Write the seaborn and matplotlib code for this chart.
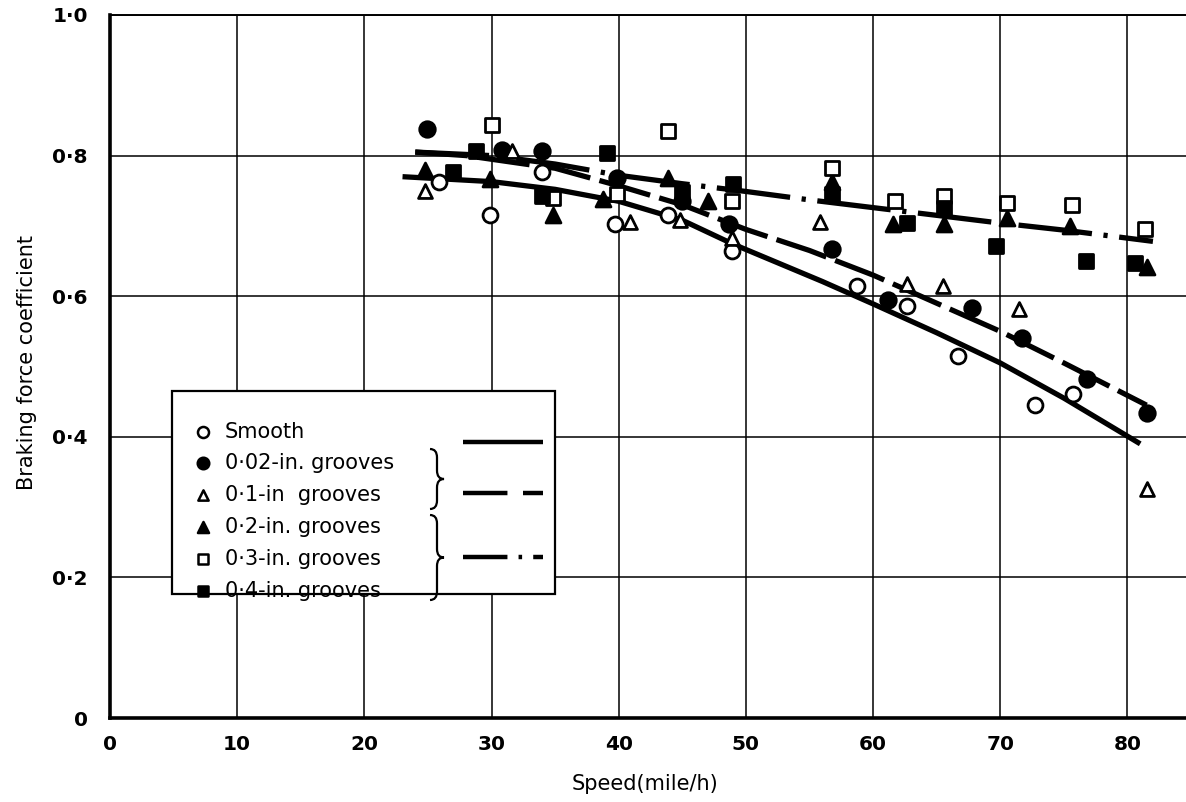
import matplotlib
matplotlib.use("Agg")
import matplotlib.pyplot as plt
from matplotlib.path import Path
from matplotlib.patches import PathPatch, Rectangle
import seaborn as sns
import pandas as pd

# ---------------- data ----------------
smooth_x = [25.9, 29.9, 34.0, 39.7, 43.9, 48.9, 58.7, 62.7, 66.7, 72.7, 75.7]
smooth_y = [0.763, 0.716, 0.777, 0.703, 0.716, 0.664, 0.614, 0.586, 0.515, 0.445, 0.461]

g002_x = [24.9, 30.8, 34.0, 39.9, 45.0, 48.7, 56.8, 61.2, 67.8, 71.7, 76.8, 81.5]
g002_y = [0.838, 0.808, 0.806, 0.768, 0.735, 0.702, 0.667, 0.595, 0.583, 0.540, 0.482, 0.434]

g01_x = [24.8, 31.6, 40.9, 44.8, 48.9, 55.8, 62.7, 65.5, 71.5, 81.5]
g01_y = [0.749, 0.806, 0.706, 0.709, 0.683, 0.706, 0.617, 0.614, 0.582, 0.326]

g02_x = [24.8, 29.9, 34.8, 38.8, 43.9, 47.0, 56.8, 61.6, 65.6, 70.5, 75.5, 81.5]
g02_y = [0.780, 0.767, 0.716, 0.738, 0.768, 0.735, 0.763, 0.702, 0.702, 0.711, 0.700, 0.642]

g03_x = [30.0, 34.8, 39.9, 43.9, 48.9, 56.8, 61.7, 65.6, 70.5, 75.6, 81.4]
g03_y = [0.844, 0.739, 0.746, 0.835, 0.736, 0.782, 0.735, 0.742, 0.732, 0.730, 0.695]

g04_x = [27.0, 28.8, 34.0, 39.1, 45.0, 49.0, 56.8, 62.7, 65.6, 69.7, 76.7, 80.6]
g04_y = [0.777, 0.806, 0.742, 0.803, 0.748, 0.760, 0.746, 0.704, 0.725, 0.671, 0.650, 0.647]

# fitted curves
solid_x = [23.0, 30.0, 35.0, 40.0, 45.0, 49.0, 56.0, 60.0, 65.0, 70.0, 75.0, 81.0]
solid_y = [0.770, 0.763, 0.752, 0.735, 0.708, 0.674, 0.621, 0.589, 0.548, 0.505, 0.455, 0.390]

dash_x = [24.0, 28.0, 33.0, 35.0, 40.0, 45.0, 50.0, 55.0, 60.0, 65.0, 70.0, 75.0, 81.5]
dash_y = [0.805, 0.800, 0.787, 0.782, 0.757, 0.730, 0.695, 0.665, 0.630, 0.590, 0.550, 0.505, 0.445]

dashdot_x = [24.0, 30.0, 35.0, 40.0, 45.0, 50.0, 55.0, 60.0, 65.0, 70.0, 75.0, 82.0]
dashdot_y = [0.805, 0.800, 0.788, 0.772, 0.760, 0.749, 0.737, 0.726, 0.715, 0.704, 0.694, 0.678]

x_ticks = [0, 10, 20, 30, 40, 50, 60, 70, 80]
y_ticks = [0, 0.2, 0.4, 0.6, 0.8, 1.0]
y_tick_labels = ["0", "0·2", "0·4", "0·6", "0·8", "1·0"]

legend_labels = ["Smooth", "0·02-in. grooves", "0·1-in  grooves",
                 "0·2-in. grooves", "0·3-in. grooves", "0·4-in. grooves"]

# ---------------- styling ----------------
sns.set_theme(style="white")
plt.rcParams["font.family"] = ["DejaVu Sans"]

fig = plt.figure(figsize=(11.86, 8.02), dpi=100)
ax = fig.add_axes([110 / 1186, 1 - 718 / 802, 1076 / 1186, 703 / 802])

series = [
    (smooth_x, smooth_y, "o", "white", 115),
    (g002_x, g002_y, "o", "black", 125),
    (g01_x, g01_y, "^", "white", 100),
    (g02_x, g02_y, "^", "black", 115),
    (g03_x, g03_y, "s", "white", 90),
    (g04_x, g04_y, "s", "black", 90),
]
for xs, ys, m, fc, s in series:
    df = pd.DataFrame({"x": xs, "y": ys})
    sns.scatterplot(data=df, x="x", y="y", marker=m, color=fc, edgecolor="black",
                    linewidth=2.0, s=s, ax=ax, zorder=4, legend=False)

lw = 3.8
sns.lineplot(x=solid_x, y=solid_y, color="black", lw=lw, ax=ax, zorder=3,
             solid_capstyle="butt")
sns.lineplot(x=dash_x, y=dash_y, color="black", lw=lw, ax=ax, zorder=3,
             linestyle=(0, (10, 1.8)), dash_capstyle="butt")
sns.lineplot(x=dashdot_x, y=dashdot_y, color="black", lw=lw, ax=ax, zorder=3,
             linestyle=(0, (14, 2.2, 0.8, 2.2)), dash_capstyle="butt")

ax.set_xlim(0, 84.6)
ax.set_ylim(0, 1.0)
ax.set_xticks(x_ticks)
ax.set_xticklabels([str(t) for t in x_ticks])
ax.set_yticks(y_ticks)
ax.set_yticklabels(y_tick_labels)
ax.grid(True, color="black", lw=1.1)
ax.set_axisbelow(True)
ax.tick_params(axis="both", length=0, labelsize=14.5, colors="black")
ax.tick_params(axis="y", pad=16)
ax.tick_params(axis="x", pad=12)
for lab in ax.get_xticklabels() + ax.get_yticklabels():
    lab.set_fontweight("bold")

for side in ["left", "bottom"]:
    ax.spines[side].set_color("black")
    ax.spines[side].set_linewidth(2.6)
ax.spines["top"].set_color("black")
ax.spines["top"].set_linewidth(1.4)
ax.spines["right"].set_visible(False)

ax.set_xlabel("Speed(mile/h)", fontsize=15, color="black")
ax.set_ylabel("Braking force coefficient", fontsize=15, color="black")
ax.yaxis.set_label_coords(-0.068, 0.506)
ax.xaxis.set_label_coords(0.497, -0.08)

# ---------------- legend box (drawn in axes fraction) ----------------
T = ax.transAxes
def fx(px):
    return (px - 110) / 1076
def fy(py):
    return (718 - py) / 703

box = Rectangle((fx(172), fy(594)), fx(555) - fx(172), fy(391) - fy(594),
                transform=T, facecolor="white", edgecolor="black", lw=1.6, zorder=6)
ax.add_patch(box)

entry_py = [432, 463, 495, 527, 559, 591]
for (xs, ys, m, fc, s), lab, py in zip(series, legend_labels, entry_py):
    ax.scatter([fx(203)], [fy(py)], transform=T, marker=m, s=s * 0.55, c=fc,
               edgecolors="black", linewidths=1.8, zorder=7, clip_on=False)
    ax.text(fx(225), fy(py), lab, transform=T, fontsize=15, va="center",
            ha="left", color="black", zorder=7)

def brace(x, ytop, ybot, w):
    ym = (ytop + ybot) / 2
    h = 0.012
    verts = [(x - w, ytop), (x, ytop), (x, ytop - h),
             (x, ym + h), (x, ym), (x + w, ym),
             (x, ym), (x, ym - h),
             (x, ybot + h), (x, ybot), (x - w, ybot)]
    codes = [Path.MOVETO, Path.CURVE3, Path.CURVE3,
             Path.LINETO, Path.CURVE3, Path.CURVE3,
             Path.CURVE3, Path.CURVE3,
             Path.LINETO, Path.CURVE3, Path.CURVE3]
    p = PathPatch(Path(verts, codes), transform=T, fill=False, edgecolor="black",
                  lw=1.6, zorder=7)
    ax.add_patch(p)

brace(fx(437), fy(449), fy(509), fx(444) - fx(437))
brace(fx(437), fy(515), fy(600), fx(444) - fx(437))

ax.plot([fx(463), fx(543)], [fy(442), fy(442)], transform=T, color="black",
        lw=3.2, zorder=7, solid_capstyle="butt")
ax.plot([fx(463), fx(543)], [fy(493), fy(493)], transform=T, color="black",
        lw=3.2, zorder=7, linestyle=(0, (10, 3.5)), dash_capstyle="butt")
ax.plot([fx(463), fx(543)], [fy(557), fy(557)], transform=T, color="black",
        lw=3.2, zorder=7, linestyle=(0, (10, 2.5, 0.8, 2.5)), dash_capstyle="butt")

fig.savefig("out.png", dpi=100, facecolor="white")
